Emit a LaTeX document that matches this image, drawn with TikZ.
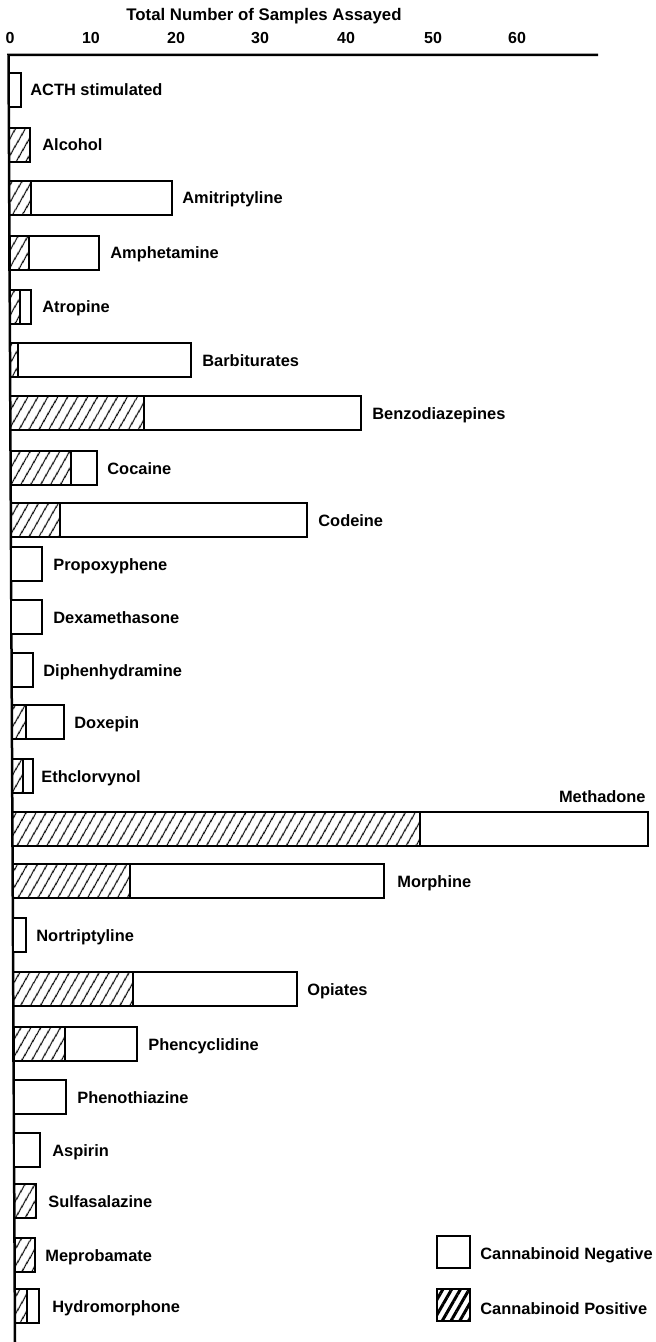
\documentclass[tikz,border=0pt]{standalone}
\usepackage{fontspec}
\setmainfont{Liberation Sans}
\usetikzlibrary{patterns.meta}
\tikzset{
  axisline/.style={draw=black, line width=1.25pt},
  whitebar/.style={draw=black, line width=1.05pt, fill=white},
  hatchbar/.style={draw=black, line width=1.05pt,
    pattern={Lines[angle=60,distance=4pt,line width=0.65pt]}},
  hatchkey/.style={draw=black, line width=1.4pt,
    pattern={Lines[angle=60,distance=3.8pt,line width=1.5pt]}},
  lab/.style={anchor=base west, inner sep=0pt,
    font=\fontsize{8.2pt}{9pt}\selectfont\bfseries},
  tick/.style={anchor=base, inner sep=0pt,
    font=\fontsize{8pt}{9pt}\selectfont\bfseries},
}
% #1 name, #2 y centre, #3 end of hatched part (0 = none), #4 end of bar, #5 label x, #6 text
\newcommand{\drugbar}[6]{%
  \pgfmathsetmacro{\xz}{8.5+6.5*(#2-55)/1287}%
  \pgfmathsetmacro{\xh}{max(#3,\xz)}%
  \draw[hatchbar] (\xz,{#2-17}) rectangle (\xh,{#2+17});
  \draw[whitebar] (\xh,{#2-17}) rectangle (#4,{#2+17});
  \node[lab] (#1) at (#5,{#2+6}) {#6};
}
\begin{document}
\begin{tikzpicture}[x=0.5pt,y=-0.5pt]
\useasboundingbox (0,0) rectangle (656,1342);
% axes
\coordinate (o) at (8.5,55);
\coordinate (xend) at (598,55);
\coordinate (yend) at (15,1342);
\draw[axisline] (xend) -- (o) -- (yend);
% title and tick labels
\node[tick, font=\fontsize{8.4pt}{9pt}\selectfont\bfseries] (title) at (264,21) {Total Number of Samples Assayed};
\node[tick] (t0) at (10,44) {0};
\node[tick] (t10) at (91,44) {10};
\node[tick] (t20) at (176,44) {20};
\node[tick] (t30) at (260,44) {30};
\node[tick] (t40) at (346,44) {40};
\node[tick] (t50) at (433,44) {50};
\node[tick] (t60) at (517,44) {60};
% bars
\drugbar{acth}{90}{0}{21}{30}{ACTH stimulated}
\drugbar{alcohol}{145}{30}{30}{42}{Alcohol}
\drugbar{amitriptyline}{198}{31}{172}{182}{Amitriptyline}
\drugbar{amphetamine}{253}{29}{99}{110}{Amphetamine}
\drugbar{atropine}{307}{20}{31}{42}{Atropine}
\drugbar{barbiturates}{360}{18}{191}{202}{Barbiturates}
\drugbar{benzodiazepines}{413}{144}{361}{372}{Benzodiazepines}
\drugbar{cocaine}{468}{71}{97}{107}{Cocaine}
\drugbar{codeine}{520}{60}{307}{318}{Codeine}
\drugbar{propoxyphene}{564}{0}{42}{53}{Propoxyphene}
\drugbar{dexamethasone}{617}{0}{42}{53}{Dexamethasone}
\drugbar{diphenhydramine}{670}{0}{33}{43}{Diphenhydramine}
\drugbar{doxepin}{722}{26}{64}{74}{Doxepin}
\drugbar{ethclorvynol}{776}{23}{33}{41}{Ethclorvynol}
% methadone (label above right end)
\pgfmathsetmacro{\xz}{8.5+6.5*(829-55)/1287}
\draw[hatchbar] (\xz,812) rectangle (420,846);
\draw[whitebar] (420,812) rectangle (648,846);
\node[lab, anchor=base east] (methadone) at (646,802) {Methadone};
\drugbar{morphine}{881}{130}{384}{397}{Morphine}
\drugbar{nortriptyline}{935}{0}{26}{36}{Nortriptyline}
\drugbar{opiates}{989}{133}{297}{307}{Opiates}
\drugbar{phencyclidine}{1044}{65}{137}{148}{Phencyclidine}
\drugbar{phenothiazine}{1097}{0}{66}{77}{Phenothiazine}
\drugbar{aspirin}{1150}{0}{40}{52}{Aspirin}
\drugbar{sulfasalazine}{1201}{36}{36}{48}{Sulfasalazine}
\drugbar{meprobamate}{1255}{35}{35}{45}{Meprobamate}
\drugbar{hydromorphone}{1306}{27}{39}{52}{Hydromorphone}
% legend
\draw[whitebar, line width=1.4pt] (437,1236) rectangle (470,1268);
\node[lab] (neg) at (480,1259) {Cannabinoid Negative};
\draw[hatchkey] (437,1289) rectangle (470,1321);
\node[lab] (pos) at (480,1314) {Cannabinoid Positive};
\end{tikzpicture}
\end{document}
